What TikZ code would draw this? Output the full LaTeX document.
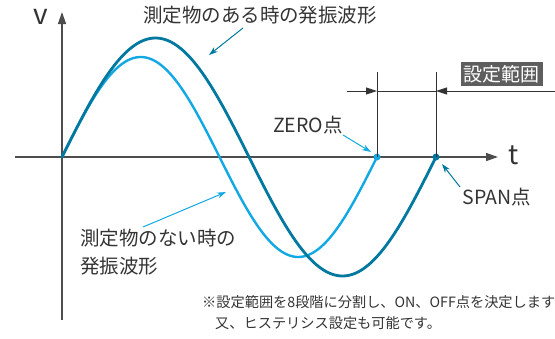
\documentclass[tikz,border=0pt]{standalone}
\usepackage{fontspec}
\setmainfont{Noto Sans CJK JP}
\usetikzlibrary{arrows.meta}
\definecolor{darkwave}{HTML}{00789F}
\definecolor{lightwave}{HTML}{12A8E4}
\definecolor{axisgray}{HTML}{4D4D4D}
\definecolor{txtgray}{HTML}{333333}
\definecolor{boxgray}{HTML}{5E5E5E}
\tikzset{
  axisline/.style={draw=axisgray, line width=1.4pt, -{Triangle[length=12pt,width=8pt]}},
  dimline/.style={draw=txtgray, line width=0.9pt},
  dimarrow/.style={dimline, -{Triangle[length=11pt,width=7pt]}},
  lbl/.style={text=txtgray, font=\fontsize{19.5}{23}\selectfont, inner sep=0pt},
  note/.style={text=txtgray, font=\fontsize{14.2}{17}\selectfont, inner sep=0pt, anchor=west},
  callout/.style={line width=1pt, -{Stealth[length=9pt,width=6pt]}},
  dot/.style={circle, inner sep=0pt, minimum size=7pt}
}
\begin{document}
\begin{tikzpicture}[x=1pt,y=-1pt]
\useasboundingbox (0,0) rectangle (555,338);
% axes
\coordinate (yb) at (62,320);
\coordinate (yt) at (62,12);
\coordinate (xl) at (15,157);
\coordinate (xr) at (498,157);
\draw[axisline] (yb) -- (yt);
\draw[axisline] (xl) -- (xr);
\node[text=txtgray, font=\fontsize{28}{30}\selectfont, inner sep=0pt] (V) at (41,17) {v};
\node[text=txtgray, font=\fontsize{27}{29}\selectfont, inner sep=0pt] (T) at (514,155) {t};
% waves
\draw[lightwave, line width=2.4pt, line cap=round] plot[domain=0:315, samples=150, smooth] ({62+\x},{157-100*sin(\x/315*360)});
\draw[darkwave, line width=2.8pt, line cap=round] plot[domain=0:374, samples=150, smooth] ({62+\x},{157-119*sin(\x/374*360)});
\node[dot, fill=lightwave] (zd) at (377,157) {};
\node[dot, fill=darkwave] (sd) at (436,157) {};
% dimension lines
\coordinate (zt) at (377,72);
\coordinate (st) at (436,72);
\coordinate (zm) at (377,91);
\coordinate (sm) at (436,91);
\coordinate (dl) at (347,91);
\coordinate (dr) at (555,91);
\draw[dimline] (zd.center) -- (zt);
\draw[dimline] (sd.center) -- (st);
\draw[dimarrow] (dl) -- (zm);
\draw[dimarrow] (dr) -- (sm);
\draw[dimline] (zm) -- (sm);
\node[fill=boxgray, text=white, font=\fontsize{19}{21}\selectfont, inner xsep=3pt, minimum height=22pt, anchor=east] (range) at (543,74) {設定範囲};
% labels
\node[lbl] (top) at (260,15) {測定物のある時の発振波形};
\coordinate (topa) at (243,28);
\coordinate (topb) at (209,55);
\draw[callout, darkwave] (topa) -- (topb);
\node[lbl, anchor=north west, align=left, text width=180pt, font=\fontsize{19.5}{28}\selectfont] (low) at (80,229) {測定物のない時の\\発振波形};
\coordinate (lowa) at (143,227);
\coordinate (lowb) at (226,192);
\draw[callout, lightwave] (lowa) -- (lowb);
\node[lbl] (zero) at (308,125) {ZERO点};
\coordinate (zeroa) at (343,135);
\coordinate (zerob) at (371,152);
\draw[callout, lightwave] (zeroa) -- (zerob);
\node[lbl] (span) at (497,197) {SPAN点};
\coordinate (spana) at (460,187);
\coordinate (spanb) at (442,164);
\draw[callout, darkwave] (spana) -- (spanb);
% note
\node[note] (n1) at (202,302) {※設定範囲を8段階に分割し、ON、OFF点を決定します};
\node[note] (n2) at (215,323) {又、ヒステリシス設定も可能です。};
\end{tikzpicture}
\end{document}
